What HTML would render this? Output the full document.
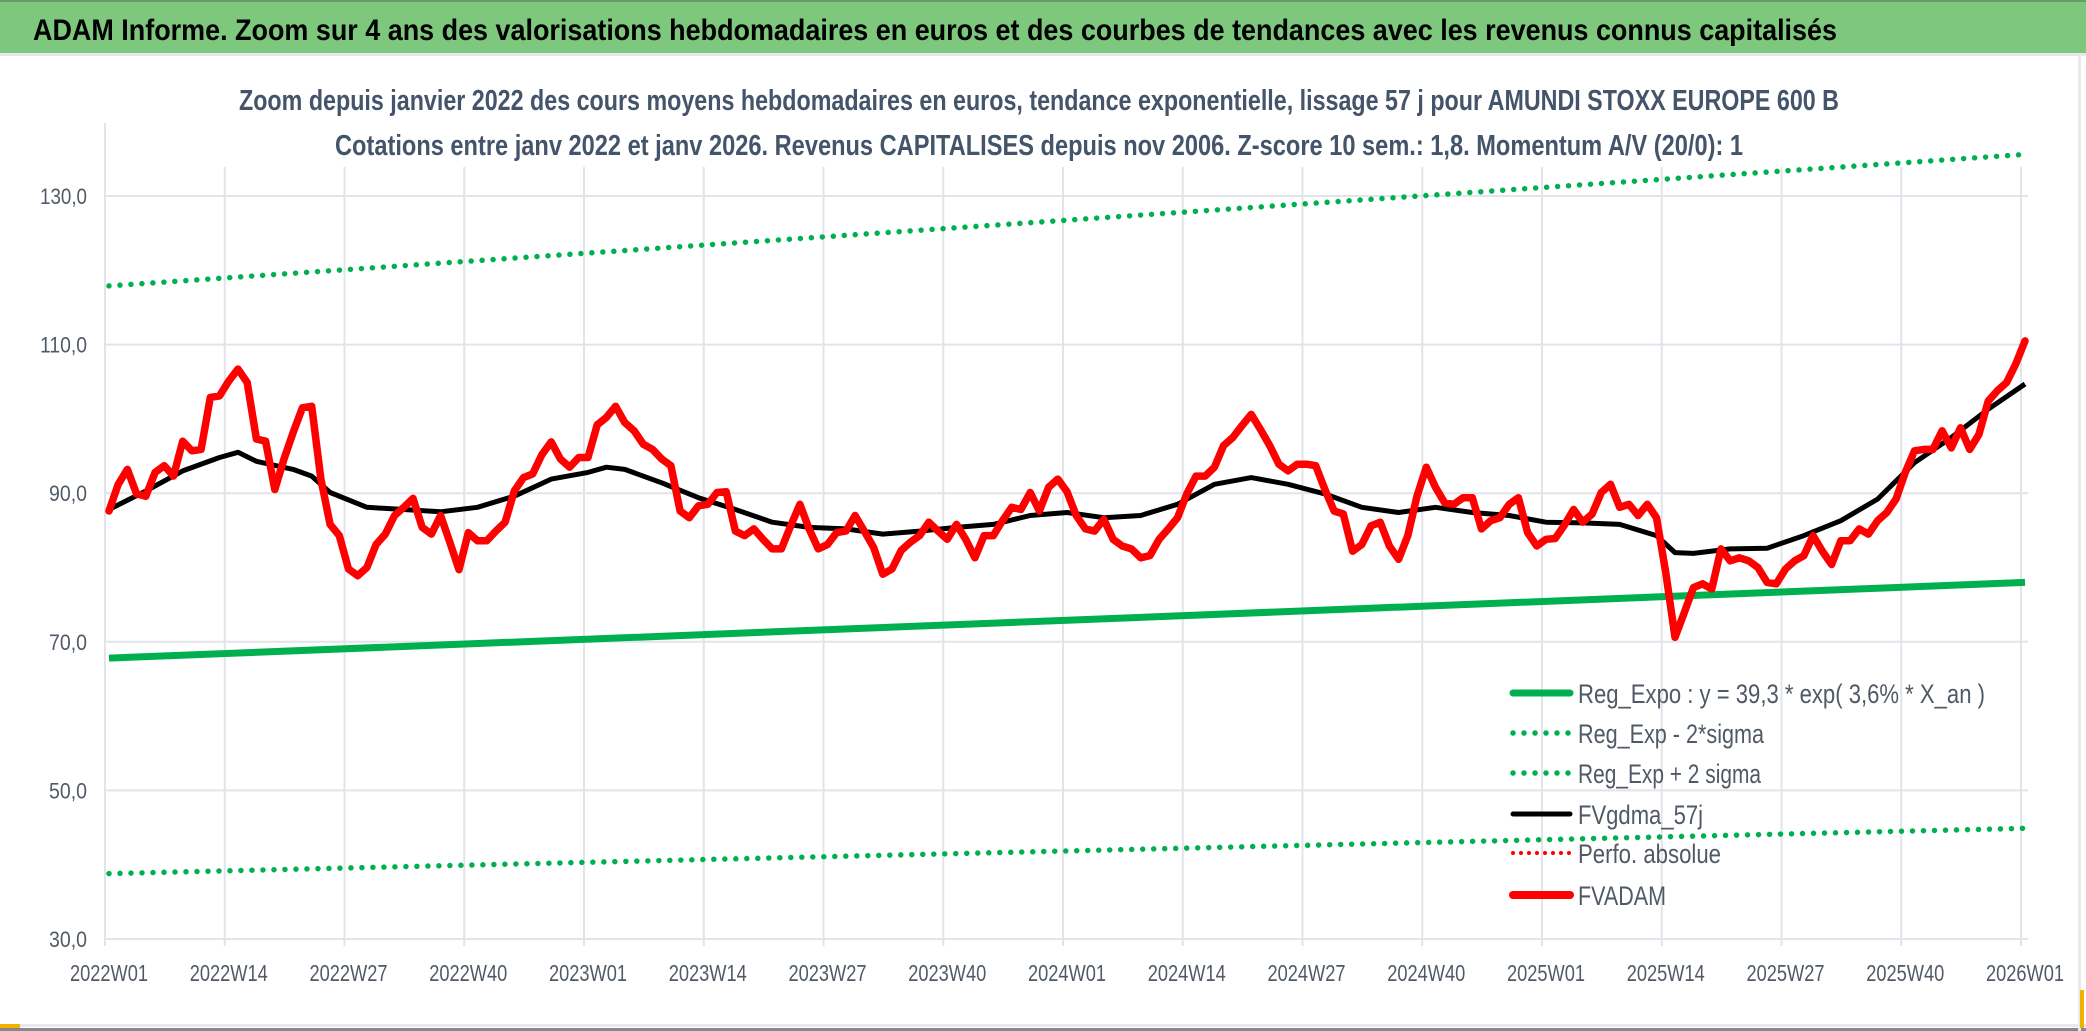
<!DOCTYPE html>
<html><head><meta charset="utf-8"><style>
html,body{margin:0;padding:0;background:#fff;}
svg{display:block;}
</style></head><body>
<svg id="chart" width="2086" height="1031" viewBox="0 0 2086 1031" xmlns="http://www.w3.org/2000/svg">
<rect x="0" y="0" width="2086" height="1031" fill="#ffffff"/>
<rect x="0" y="0" width="2086" height="53" fill="#7dc87d"/>
<rect x="0" y="0" width="2086" height="2" fill="#6a9a6a"/>
<rect x="0" y="53" width="2086" height="3" fill="#e6e8ee"/>
<text x="33" y="40" font-family="'Liberation Sans Narrow','Liberation Sans',sans-serif" font-weight="bold" font-size="30" fill="#000" textLength="1804" lengthAdjust="spacingAndGlyphs">ADAM Informe. Zoom sur 4 ans des valorisations hebdomadaires en euros et des courbes de tendances avec les revenus connus capitalisés</text>
<text x="239" y="110" font-family="'Liberation Sans Narrow','Liberation Sans',sans-serif" font-weight="bold" font-size="29" fill="#44546a" textLength="1600" lengthAdjust="spacingAndGlyphs">Zoom depuis janvier 2022 des cours moyens hebdomadaires en euros, tendance exponentielle, lissage 57 j pour AMUNDI STOXX EUROPE 600 B</text>
<text x="335" y="155" font-family="'Liberation Sans Narrow','Liberation Sans',sans-serif" font-weight="bold" font-size="29" fill="#44546a" textLength="1408" lengthAdjust="spacingAndGlyphs">Cotations entre janv 2022 et janv 2026. Revenus CAPITALISES depuis nov 2006. Z-score 10 sem.: 1,8. Momentum A/V (20/0): 1</text>
<g id="grid"></g>
<g id="axes"></g>
<g id="series"></g>
<g id="legend"></g>
<rect x="0" y="1024" width="2086" height="3" fill="#e6e8ee"/>
<rect x="0" y="1028" width="2086" height="3" fill="#888"/>
<rect x="0" y="1024" width="20" height="4" fill="#f0b400"/>
<rect x="2078" y="56" width="3" height="975" fill="#e8e8e8"/>
<rect x="2080" y="990" width="4" height="38" fill="#f0b400"/>
</svg>
<script>
// ---- data ----
const yTicks = [30, 50, 70, 90, 110, 130];
const yTickLabels = ["30,0", "50,0", "70,0", "90,0", "110,0", "130,0"];
const xTickWeeks = [0, 13, 26, 39, 52, 65, 78, 91, 104, 117, 130, 143, 156, 169, 182, 195, 208];
const xTickLabels = ["2022W01","2022W14","2022W27","2022W40","2023W01","2023W14","2023W27","2023W40","2024W01","2024W14","2024W27","2024W40","2025W01","2025W14","2025W27","2025W40","2026W01"];
const fvadam = [87.6,91.2,93.2,89.9,89.6,92.8,93.7,92.3,97.0,95.7,95.9,102.9,103.1,105.1,106.7,104.9,97.3,97.0,90.5,94.6,98.2,101.5,101.7,91.9,85.8,84.3,79.8,78.9,80.0,83.1,84.5,87.0,88.1,89.3,85.4,84.5,87.0,83.4,79.7,84.7,83.6,83.6,84.9,86.1,90.3,92.1,92.6,95.2,96.9,94.6,93.5,94.8,94.8,99.2,100.2,101.7,99.5,98.4,96.6,95.9,94.6,93.7,87.6,86.7,88.3,88.5,90.1,90.2,84.9,84.3,85.2,83.8,82.5,82.5,85.6,88.5,85.2,82.5,83.1,84.7,84.9,87.0,84.9,82.7,79.1,79.8,82.3,83.4,84.3,86.1,84.9,83.8,85.8,83.8,81.3,84.3,84.3,86.3,88.1,87.8,90.1,87.6,90.8,91.9,90.2,87.0,85.2,84.9,86.5,83.8,82.9,82.5,81.3,81.6,83.8,85.2,86.7,89.9,92.3,92.3,93.5,96.4,97.5,99.1,100.6,98.6,96.4,93.9,93.0,93.9,93.9,93.7,90.5,87.6,87.2,82.2,83.1,85.6,86.1,82.9,81.1,84.3,89.6,93.5,90.8,88.7,88.5,89.4,89.4,85.2,86.3,86.7,88.5,89.4,84.7,82.9,83.8,83.9,85.7,87.8,86.1,87.2,90.1,91.2,88.1,88.5,87.0,88.5,86.7,79.3,70.6,73.9,77.3,77.8,77.1,82.5,80.9,81.3,80.9,80.0,78.0,77.8,79.8,80.9,81.6,84.3,82.2,80.4,83.6,83.6,85.2,84.5,86.3,87.4,89.2,92.8,95.7,95.9,95.9,98.4,96.1,98.8,95.9,97.9,102.4,103.8,104.9,107.4,110.5];
const smoothWeeks = [0,4,8,12,14,16,20,22,24,28,32,36,40,44,48,52,54,56,60,64,68,72,76,80,84,88,92,96,100,104,108,112,116,120,124,128,132,136,140,144,148,152,156,160,164,168,170,172,176,180,184,188,192,196,200,204,208];
const smoothValues = [87.8,90.3,93.0,94.8,95.5,94.3,93.2,92.3,90.1,88.1,87.8,87.5,88.1,89.6,91.9,92.8,93.5,93.2,91.4,89.4,87.8,86.1,85.4,85.2,84.5,84.9,85.4,85.8,87.0,87.4,86.7,87.0,88.5,91.2,92.1,91.2,89.9,88.1,87.4,88.1,87.4,87.0,86.1,86.0,85.8,84.3,82.0,81.9,82.5,82.6,84.3,86.3,89.2,94.1,97.5,101.3,104.7];
const trendWeeks = [0, 208];
const regExpo = [67.8, 78.0];
const regMinus = [38.8, 44.9];
const regPlus = [117.9, 135.6];

// ---- scales ----
const X0 = 109, X1 = 2025, NW = 208;
function xs(w){ return X0 + (X1 - X0) * w / NW; }
function ys(v){ return 939 - (v - 30) * (939 - 196) / 100; }
const NS = "http://www.w3.org/2000/svg";
function mk(tag, attrs, parent){ const e = document.createElementNS(NS, tag); for (const k in attrs) e.setAttribute(k, attrs[k]); parent.appendChild(e); return e; }
const grid = document.getElementById('grid');
const axes = document.getElementById('axes');
const series = document.getElementById('series');
const legend = document.getElementById('legend');
const FONT = "'Liberation Sans Narrow','Liberation Sans',sans-serif";

yTicks.forEach((t, i) => {
  const g = mk('line', {x1: 105, x2: 2028, y1: ys(t), y2: ys(t), stroke: '#e2e4ea', 'stroke-width': 2}, grid);
  
  
  const lb = mk('text', {x: 87, y: ys(t) + 8, 'text-anchor': 'end', 'font-family': FONT, 'font-size': 22, fill: '#505a66', textLength: yTickLabels[i].length > 4 ? 47 : 38, lengthAdjust: 'spacingAndGlyphs'}, axes);
  lb.textContent = yTickLabels[i];
  
  
});
xTickWeeks.forEach((w, i) => {
  const gx = xs(w) - 4;
  const g = mk('line', {x1: gx, x2: gx, y1: i === 0 ? 123 : 167, y2: 946, stroke: '#e2e4ea', 'stroke-width': 2}, grid);
  
  
  const lb = mk('text', {x: xs(w), y: 981, 'text-anchor': 'middle', 'font-family': FONT, 'font-size': 23, fill: '#505a66', textLength: 78, lengthAdjust: 'spacingAndGlyphs'}, axes);
  lb.textContent = xTickLabels[i];
  
  
});

function pts(ws, vs){ return ws.map((w, i) => xs(w).toFixed(1) + ',' + ys(vs[i]).toFixed(1)).join(' '); }
const dotted = {'stroke-dasharray': '0 11', 'stroke-linecap': 'round', 'stroke-width': 5.5};

const lp = mk('polyline', Object.assign({points: pts(trendWeeks, regPlus), fill: 'none', stroke: '#00b050'}, dotted), series);


const lm = mk('polyline', Object.assign({points: pts(trendWeeks, regMinus), fill: 'none', stroke: '#00b050'}, dotted), series);


const le = mk('polyline', {points: pts(trendWeeks, regExpo), fill: 'none', stroke: '#00b050', 'stroke-width': 7}, series);


const ls = mk('polyline', {points: pts(smoothWeeks, smoothValues), fill: 'none', stroke: '#000', 'stroke-width': 5, 'stroke-linejoin': 'round'}, series);


const lr = mk('polyline', {points: pts(fvadam.map((v, i) => i), fvadam), fill: 'none', stroke: '#ff0000', 'stroke-width': 7.5, 'stroke-linejoin': 'round', 'stroke-linecap': 'round'}, series);



// ---- legend ----
const legItems = [
  {t: 'Reg_Expo : y = 39,3 * exp( 3,6% *  X_an )', w: 407, c: '#00b050', d: false, sw: 7, y: 693},
  {t: 'Reg_Exp - 2*sigma', w: 186, c: '#00b050', d: true, sw: 5.5, y: 733},
  {t: 'Reg_Exp + 2 sigma', w: 183, c: '#00b050', d: true, sw: 5.5, y: 773},
  {t: 'FVgdma_57j', w: 125, c: '#000000', d: false, sw: 5, y: 814},
  {t: 'Perfo. absolue', w: 143, c: '#ff0000', d: true, sw: 4, y: 853},
  {t: 'FVADAM', w: 88, c: '#ff0000', d: false, sw: 8, y: 895}
];
legItems.forEach(it => {
  const a = {x1: 1513, x2: 1570, y1: it.y, y2: it.y, stroke: it.c, 'stroke-width': it.sw, 'stroke-linecap': 'round'};
  if (it.d) { a['stroke-dasharray'] = it.c === '#ff0000' ? '0 8' : '0 11'; }
  const sw = mk('line', a, legend);
  
  
  const tx = mk('text', {x: 1578, y: it.y + 10, 'font-family': FONT, 'font-size': 27, fill: '#505a66', textLength: it.w, lengthAdjust: 'spacingAndGlyphs'}, legend);
  tx.textContent = it.t;
  
  
});
</script>
</body></html>
